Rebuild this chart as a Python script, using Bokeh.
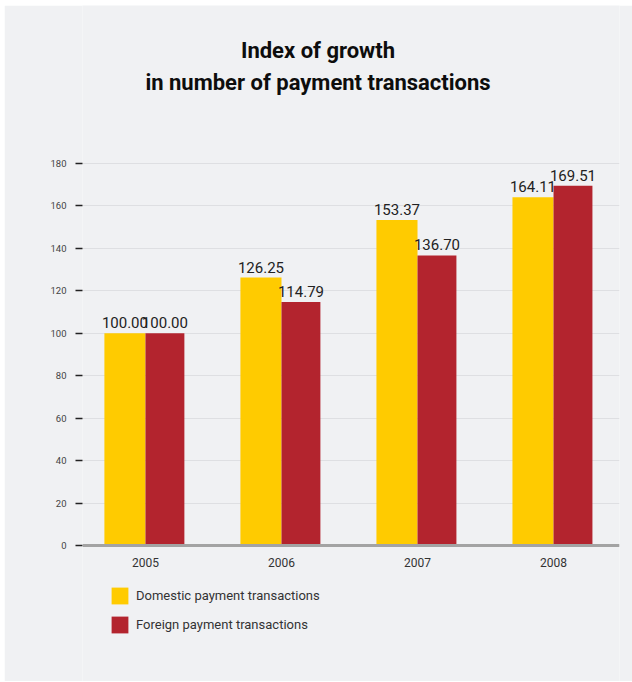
from bokeh.plotting import figure
from bokeh.models import ColumnDataSource, Range1d, FixedTicker, Legend, LegendItem, Label, LabelSet, Span
from bokeh.core.properties import value
from bokeh.embed import file_html
from bokeh.resources import INLINE

years = ["2005", "2006", "2007", "2008"]
domestic = [100.00, 126.25, 153.37, 164.11]
foreign = [100.00, 114.79, 136.70, 169.51]
y_ticks = [0, 20, 40, 60, 80, 100, 120, 140, 160, 180]
title_lines = ["Index of growth", "in number of payment transactions"]
series_names = ["Domestic payment transactions", "Foreign payment transactions"]

FONT = "Roboto"
BG = "#f0f1f3"
YELLOW = "#ffcb00"
RED = "#b3242e"

xs = list(range(len(years)))
src = ColumnDataSource(dict(
    x=xs,
    zero=[0] * len(xs),
    year=years,
    xd=[x - 0.151 for x in xs],
    xf=[x + 0.143 for x in xs],
    dom=domestic,
    frn=foreign,
    dom_t=["%.2f" % v for v in domestic],
    frn_t=["%.2f" % v for v in foreign],
))

# frame covers the full height; y=0 sits at 540px from the top
p = figure(width=628, height=676, output_backend="svg", toolbar_location=None,
           x_range=Range1d(-0.463, 3.485), y_range=Range1d(-64.08, 254.45),
           min_border_left=78, min_border_right=13, min_border_top=0, min_border_bottom=0)
p.margin = (5, 0, 0, 4)
p.background_fill_color = BG
p.border_fill_color = BG
p.outline_line_color = None

rd = p.vbar(x="xd", width=0.302, top="dom", bottom=0, source=src, fill_color=YELLOW, line_color=None)
rf = p.vbar(x="xf", width=0.286, top="frn", bottom=0, source=src, fill_color=RED, line_color=None)

for col, xc in (("dom_t", "xd"), ("frn_t", "xf")):
    p.add_layout(LabelSet(x=xc, y=col.replace("_t", ""), text=col, source=src, text_align="center",
                          text_baseline="alphabetic", y_offset=5, text_font=value(FONT),
                          text_font_size="15px", text_color="#222222"))

# baseline (x axis line) and year labels
p.add_layout(Span(location=0, dimension="width", line_color="#a3a3a3", line_width=3))
p.add_layout(LabelSet(x="x", y="zero", text="year", source=src, text_align="center",
                      text_baseline="middle", y_offset=-17, text_font=value(FONT),
                      text_font_size="12px", text_color="#333333"))
p.xaxis.visible = False

p.yaxis.ticker = FixedTicker(ticks=y_ticks)
p.yaxis.axis_line_color = None
p.yaxis.major_tick_in = 0
p.yaxis.major_tick_out = 7
p.yaxis.major_tick_line_color = "#222222"
p.yaxis.major_tick_line_width = 1.5
p.yaxis.minor_tick_line_color = None
p.yaxis.major_label_text_font = FONT
p.yaxis.major_label_text_font_size = "9.5px"
p.yaxis.major_label_text_color = "#444444"
p.yaxis.major_label_standoff = 9

p.xgrid.grid_line_color = None
p.ygrid.grid_line_color = "#dedfe2"
p.ygrid.grid_line_width = 1

# title (screen units measured from the frame's bottom-left)
for i, t in enumerate(title_lines):
    p.add_layout(Label(x=235.5, y=631 - 32 * i, x_units="screen", y_units="screen", text=t,
                       text_align="center", text_baseline="middle", text_font=FONT,
                       text_font_style="bold", text_font_size="22px", text_color="#0d0d0d"))

legend = Legend(items=[LegendItem(label=series_names[0], renderers=[rd]),
                       LegendItem(label=series_names[1], renderers=[rf])],
                location=(27, 46), orientation="vertical",
                background_fill_alpha=0, border_line_color=None,
                padding=0, margin=0, spacing=8, glyph_width=21, glyph_height=21,
                label_standoff=6, label_height=21,
                label_text_font=FONT, label_text_font_size="13px", label_text_color="#333333")
p.add_layout(legend)

open("out.html", "w").write(file_html(p, INLINE))
